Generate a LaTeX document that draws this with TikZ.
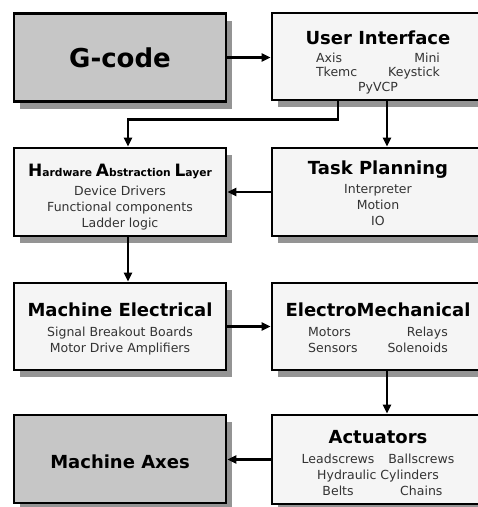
\documentclass[tikz,border=0pt]{standalone}
\usepackage{fontspec}
\setmainfont{DejaVu Sans}
\usepackage{pgf,tikz}
\usetikzlibrary{shadows,arrows.meta}
\newcommand{\titulo}[2][18pt]{{\color{black}\fontsize{18}{21}\selectfont\bfseries\rule{0pt}{#1}#2}}
\newcommand{\chica}[1]{{\fontsize{10.7}{12}\selectfont #1}}
\tikzstyle{caja} = [draw=black, line width=2.8pt, fill=gray!8, rectangle, minimum width=212pt, minimum height=88pt, inner sep=0pt, align=center, text=black!80, font=\fontsize{12.5}{16}\selectfont, drop shadow={shadow xshift=6pt, shadow yshift=-7pt, fill=black!42, opacity=1}]
\tikzstyle{cajagris} = [caja, fill=gray!45]
\tikzstyle{flecha} = [line width=2.8pt, -{Triangle[length=9pt,width=8pt]}]

\begin{document}
\begin{tikzpicture}[x=1pt,y=-1pt]
		\useasboundingbox (0,0) rectangle (478,507);
		\clip (0,0) rectangle (478,507);
		\node[cajagris] (gcode) at (120,57.5) {{\color{black}\fontsize{26}{30}\selectfont\bfseries G-code}};
		\node[caja, minimum height=87pt] (ui) at (378,56.5) {\titulo[27pt]{User Interface}\\[2pt]
			\renewcommand{\arraystretch}{0.9}%
			\begin{tabular}[t]{@{}l@{\hspace{31pt}}r@{}}
				Axis & Mini\\
				Tkemc & Keystick\\
				\multicolumn{2}{c}{PyVCP}
			\end{tabular}};
		\node[caja] (hal) at (120,192) {{\color{black}\bfseries\fontsize{17}{20}\selectfont\rule{0pt}{22pt}H\chica{ardware }A\chica{bstraction }L\chica{ayer}}\\[3pt]
			Device Drivers\\ Functional components\\ Ladder logic};
		\node[caja] (tp) at (378,192) {\titulo[16pt]{Task Planning}\\[3pt] Interpreter\\ Motion\\ IO};
		\node[caja, minimum height=87pt] (me) at (120,326.5) {\titulo[19pt]{Machine Electrical}\\[4pt]
			Signal Breakout Boards\\ Motor Drive Amplifiers};
		\node[caja, minimum height=87pt] (em) at (378,326.5) {\titulo[21pt]{ElectroMechanical}\\[4pt]
			\begin{tabular}[t]{@{}l@{\hspace{30pt}}r@{}}
				Motors & Relays\\
				Sensors & Solenoids
			\end{tabular}};
		\node[cajagris] (ma) at (120,459) {\titulo[19pt]{Machine Axes}};
		\node[caja, minimum height=89pt] (act) at (378,459.5) {\titulo[25pt]{Actuators}\\[4pt]
			\begin{tabular}[t]{@{}c@{\hspace{14pt}}c@{}}
				Leadscrews & Ballscrews\\
				\multicolumn{2}{c}{Hydraulic Cylinders}\\
				Belts & Chains
			\end{tabular}};

		\draw[flecha] (gcode.east) -- (gcode.east -| ui.west);
		\draw[flecha] ([xshift=-40pt]ui.south) -- ++(0,18) -| ([xshift=8pt]hal.north);
		\draw[flecha] ([xshift=9pt]ui.south) -- ([xshift=9pt]tp.north);
		\draw[flecha] (tp.west) -- (hal.east);
		\draw[flecha] ([xshift=8pt]hal.south) -- ([xshift=8pt]me.north);
		\draw[flecha] (me.east) -- (me.east -| em.west);
		\draw[flecha] ([xshift=9pt]em.south) -- ([xshift=9pt]act.north);
		\draw[flecha] (act.west) -- (act.west -| ma.east);
	\end{tikzpicture}
\end{document}
